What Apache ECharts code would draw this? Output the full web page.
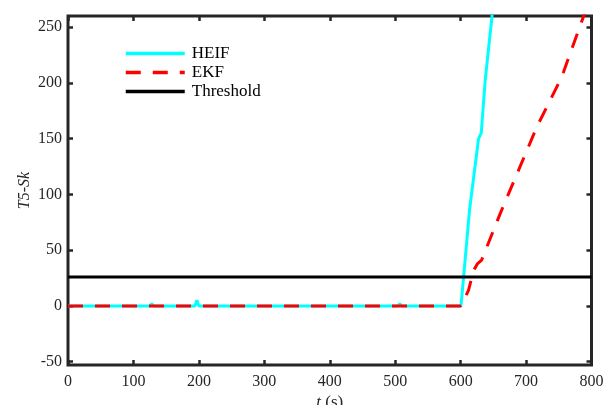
<!DOCTYPE html>
<html>
<head>
<meta charset="utf-8">
<script src="https://cdn.jsdelivr.net/npm/echarts@6/dist/echarts.min.js"></script>
<style>html,body{margin:0;padding:0;background:#fff}#c{width:606px;height:405px}</style>
</head>
<body>
<div id="c"></div>
<script>
// Data
var heifT = [0, 125, 128, 131, 194, 197, 200, 504, 507, 510, 600.5, 604.5, 613.6, 627.4, 631.5, 637.6, 648, 652];
var heifV = [0, 0, 2, 0, 0, 5, 0, 0, 2, 0, 0, 25.5, 86, 150, 155, 202.6, 260, 290];
var ekfT = [0, 600.5, 612, 620, 626, 632, 660.6, 716.6, 749.7, 757.4, 788, 795];
var ekfV = [0, 0, 14, 32, 38, 41, 83, 160.7, 199.6, 210, 260, 270];
var thresholdT = [0, 800];
var thresholdV = [26, 26];
var xTicks = [0, 100, 200, 300, 400, 500, 600, 700, 800];
var yTicks = [-50, 0, 50, 100, 150, 200, 250];
var seriesNames = ['HEIF', 'EKF', 'Threshold'];

function pairs(t, v) { return t.map(function (x, i) { return [x, v[i]]; }); }

var font = 'Liberation Serif';
var axisColor = '#262626';
var chart = echarts.init(document.getElementById('c'), null, {renderer: 'canvas'});
var baseX = {
  type: 'value', min: 0, max: 800, interval: 100,
  axisLine: {show: false, onZero: false}, splitLine: {show: false},
  axisTick: {show: true, inside: true, length: 5, lineStyle: {color: axisColor, width: 2.5}}
};
var baseY = {
  type: 'value', min: -53, max: 260,
  axisLine: {show: false, onZero: false}, splitLine: {show: false},
  axisTick: {show: true, inside: true, length: 5, customValues: yTicks, lineStyle: {color: axisColor, width: 2.5}}
};
chart.setOption({
  animation: false,
  grid: {left: 68, right: 14.5, top: 16, bottom: 40, show: true, borderColor: axisColor, borderWidth: 3,
    containLabel: false, outerBoundsMode: 'none'},
  legend: {
    left: 124, top: 45, padding: 0, orient: 'vertical', itemWidth: 59, itemHeight: 19, itemGap: 2,
    data: seriesNames,
    itemStyle: {opacity: 0},
    lineStyle: {width: 3.5},
    textStyle: {fontFamily: font, fontSize: 17, color: '#000', padding: [0, 0, 0, 2]}
  },
  xAxis: [
    Object.assign({}, baseX, {
      position: 'bottom',
      axisLabel: {show: true, margin: 9, fontFamily: font, fontSize: 16, color: axisColor,
        customValues: xTicks},
      name: '{i|t} (s)', nameLocation: 'middle', nameGap: 29, nameMoveOverlap: false,
      nameTextStyle: {fontFamily: font, fontSize: 17, color: axisColor,
        rich: {i: {fontFamily: font, fontStyle: 'italic', fontSize: 17, color: axisColor}}}
    }),
    Object.assign({}, baseX, {position: 'top', axisLabel: {show: false}})
  ],
  yAxis: [
    Object.assign({}, baseY, {
      position: 'left',
      axisLabel: {show: true, margin: 6, fontFamily: font, fontSize: 16, color: axisColor, customValues: yTicks},
      name: 'T5-Sk', nameLocation: 'middle', nameGap: 35, nameRotate: 90, nameMoveOverlap: false,
      nameTextStyle: {fontFamily: font, fontStyle: 'italic', fontSize: 16, color: axisColor}
    }),
    Object.assign({}, baseY, {position: 'right', axisLabel: {show: false}})
  ],
  series: [
    {name: 'HEIF', type: 'line', data: pairs(heifT, heifV), showSymbol: false, symbol: 'none', clip: true,
      lineStyle: {color: '#00FFFF', width: 3}, itemStyle: {color: '#00FFFF'}, z: 2},
    {name: 'EKF', type: 'line', data: pairs(ekfT, ekfV), showSymbol: false, symbol: 'none', clip: true,
      lineStyle: {color: '#FF0000', width: 3, type: [15, 12]}, itemStyle: {color: '#FF0000'}, z: 3},
    {name: 'Threshold', type: 'line', data: pairs(thresholdT, thresholdV), showSymbol: false, symbol: 'none', clip: true,
      lineStyle: {color: '#000000', width: 3}, itemStyle: {color: '#000000'}, z: 4}
  ]
});
</script>
</body>
</html>
